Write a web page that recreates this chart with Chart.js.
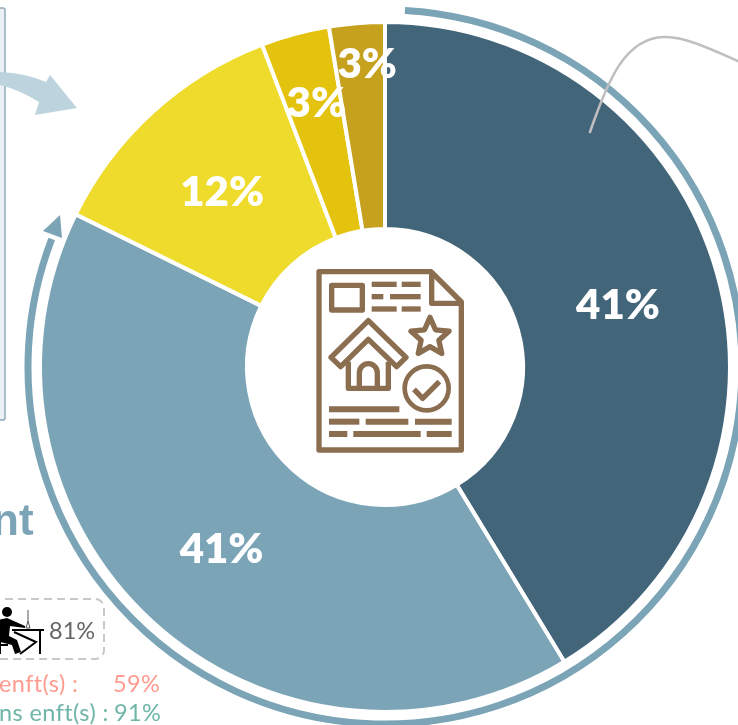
<!DOCTYPE html>
<html lang="fr">
<head>
<meta charset="utf-8">
<script src="https://cdn.jsdelivr.net/npm/chart.js@4/dist/chart.umd.min.js"></script>
<style>
html,body{margin:0;padding:0;background:#fff;overflow:hidden}
#wrap{position:relative;width:738px;height:725px;overflow:hidden}
canvas{position:absolute;left:0;top:0}
.t{position:absolute;white-space:pre;font-family:"Lato",sans-serif;line-height:1;font-weight:400}
</style>
</head>
<body>
<div id="wrap">
<canvas id="c" width="738" height="725"></canvas>
<span class="t" style="left:-8px;top:498px;font-size:44px;font-weight:700;font-family:'Liberation Sans',sans-serif;color:#7BA4B7">nt</span>
<span class="t" style="left:49px;top:619px;font-size:23.5px;color:#666">81%</span>
<span class="t" style="left:-1px;top:672px;font-size:23.5px;letter-spacing:.4px;color:#FF9C8F">enft(s) :</span>
<span class="t" style="left:113px;top:672px;font-size:23.5px;letter-spacing:.4px;color:#FF9C8F">59%</span>
<span class="t" style="left:-1px;top:701px;font-size:23.5px;letter-spacing:.4px;color:#6FB5A8">ns enft(s) :</span>
<span class="t" style="left:114px;top:701px;font-size:23.5px;letter-spacing:.4px;color:#6FB5A8">91%</span>
</div>
<script>
const categories = ["A", "B", "C", "D", "E"];
const values = [41.3, 41, 11.9, 3.2, 2.6];
const tickLabels = ["41%", "41%", "12%", "3%", "3%"];
const sliceColors = ["#426579", "#7BA4B7", "#EEDB2B", "#E3C30D", "#C5A11D"];
const labelRadii = [242, 242, 242, 275, 305];
const labelShiftX = [0, 0, 0, 3, 7];
const labelShiftY = [4, 4, 4, 2, 1];

const deco = {
  id: "deco",
  beforeDatasetsDraw(chart) {
    const ctx = chart.ctx;
    ctx.save();
    ctx.fillStyle = "#EAF0F3"; ctx.strokeStyle = "#8FAAB9"; ctx.lineWidth = 1.5;
    ctx.beginPath(); ctx.roundRect(-10, 8, 15, 412, 2); ctx.fill(); ctx.stroke();
    ctx.fillStyle = "#BDD3DD";
    ctx.beginPath();
    ctx.moveTo(0, 72);
    ctx.quadraticCurveTo(25, 73, 46, 82);
    ctx.lineTo(50, 75); ctx.lineTo(77, 108); ctx.lineTo(35, 115); ctx.lineTo(39, 102);
    ctx.quadraticCurveTo(20, 90, 0, 85);
    ctx.closePath(); ctx.fill();
    ctx.strokeStyle = "#C8C8C8"; ctx.lineWidth = 2; ctx.setLineDash([8, 5]);
    ctx.beginPath(); ctx.roundRect(-30, 599, 134, 60, 9); ctx.stroke();
    ctx.setLineDash([]);
    ctx.fillStyle = "#000"; ctx.strokeStyle = "#000";
    ctx.beginPath(); ctx.arc(7, 612, 5, 0, 7); ctx.fill();
    ctx.beginPath(); ctx.moveTo(-2, 620); ctx.lineTo(7, 618); ctx.lineTo(25, 626); ctx.lineTo(25, 628); ctx.lineTo(10, 626); ctx.lineTo(9, 636); ctx.lineTo(17, 640); ctx.lineTo(21, 652); ctx.lineTo(15, 654); ctx.lineTo(12, 645); ctx.lineTo(0, 642); ctx.closePath(); ctx.fill();
    ctx.lineWidth = 2;
    ctx.beginPath(); ctx.moveTo(12, 630); ctx.lineTo(44, 630); ctx.moveTo(40, 630); ctx.lineTo(40, 654); ctx.moveTo(14, 632); ctx.lineTo(36, 642); ctx.lineTo(20, 654); ctx.moveTo(0, 640); ctx.lineTo(0, 654); ctx.moveTo(0, 645); ctx.lineTo(8, 645); ctx.stroke();
    ctx.lineWidth = 1; ctx.strokeStyle = "#555";
    ctx.beginPath(); ctx.moveTo(28, 610); ctx.lineTo(28, 621); ctx.lineTo(30, 628); ctx.lineTo(26, 628); ctx.lineTo(28, 621); ctx.stroke();
    ctx.restore();
  },
  afterDatasetsDraw(chart) {
    const ctx = chart.ctx;
    const arc0 = chart.getDatasetMeta(0).data[0];
    const cx = arc0.x, cy = arc0.y;
    ctx.save();
    const R = 357, a0 = (3.2 - 90) * Math.PI / 180, a1 = (291 - 90) * Math.PI / 180;
    ctx.strokeStyle = "#7BA4B7"; ctx.lineWidth = 7;
    ctx.beginPath(); ctx.arc(cx, cy, R, a0, a1); ctx.stroke();
    ctx.fillStyle = "#7BA4B7";
    ctx.beginPath(); ctx.moveTo(60, 215); ctx.lineTo(43, 231); ctx.lineTo(62, 238); ctx.closePath(); ctx.fill();
    ctx.strokeStyle = "#BFBFBF"; ctx.lineWidth = 2.6; ctx.lineCap = "round";
    ctx.beginPath(); ctx.moveTo(590, 132);
    ctx.bezierCurveTo(608, 80, 625, 38, 664, 37);
    ctx.bezierCurveTo(685, 36, 715, 51, 740, 62);
    ctx.stroke();
    ctx.fillStyle = "#fff"; ctx.font = "800 42px Lato, sans-serif";
    ctx.textAlign = "center"; ctx.textBaseline = "middle";
    chart.getDatasetMeta(0).data.forEach((arc, i) => {
      const mid = (arc.startAngle + arc.endAngle) / 2;
      ctx.fillText(tickLabels[i], cx + labelShiftX[i] + labelRadii[i] * Math.cos(mid), cy + labelShiftY[i] + labelRadii[i] * Math.sin(mid));
    });
    ctx.translate(300, 250); ctx.scale(1 / 3, 1 / 3);
    ctx.strokeStyle = "#8B6D50"; ctx.lineWidth = 16; ctx.lineJoin = "round"; ctx.lineCap = "butt";
    const path = (pts, close) => { ctx.beginPath(); pts.forEach((p, i) => i ? ctx.lineTo(p[0], p[1]) : ctx.moveTo(p[0], p[1])); if (close) ctx.closePath(); ctx.stroke(); };
    path([[57,65],[393,65],[484,156],[484,600],[57,600]], true);
    path([[395,65],[395,160],[484,160]]);
    ctx.strokeRect(95, 106, 92, 74);
    [[103,215,290],[103,305,362],[140,215,250],[140,270,362],[177,215,290],[177,305,362]].forEach(d => path([[d[1],d[0]],[d[2],d[0]]]));
    path([[205,212],[318,322],[290,350],[205,268],[122,350],[93,322]], true);
    path([[145,335],[145,415],[265,415],[265,335]]);
    ctx.beginPath(); ctx.moveTo(178, 412); ctx.lineTo(178, 372); ctx.arc(205, 368, 27, Math.PI, 0); ctx.lineTo(232, 412); ctx.stroke();
    const star = [];
    for (let i = 0; i < 10; i++) { const r = i % 2 ? 28 : 60, a = -Math.PI / 2 + i * Math.PI / 5; star.push([390 + r * Math.cos(a), 262 + r * Math.sin(a)]); }
    path(star, true);
    ctx.lineWidth = 14;
    ctx.beginPath(); ctx.arc(380, 415, 66, 0, 7); ctx.stroke();
    ctx.lineWidth = 16;
    path([[342,418],[368,445],[418,395]]);
    ctx.lineWidth = 18;
    [[478,87,298],[515,87,178],[515,197,325],[515,345,455],[552,87,142],[552,160,362],[552,380,455]].forEach(d => path([[d[1],d[0]],[d[2],d[0]]]));
    ctx.restore();
  }
};

new Chart(document.getElementById("c"), {
  type: "doughnut",
  data: { labels: categories, datasets: [{ data: values, backgroundColor: sliceColors, borderColor: "#fff", borderWidth: 4 }] },
  options: {
    responsive: false, animation: false, cutout: 138,
    layout: { padding: { left: 38, right: 6, top: 20, bottom: 11 } },
    plugins: { legend: { display: false }, tooltip: { enabled: false } }
  },
  plugins: [deco]
});
</script>
</body>
</html>
